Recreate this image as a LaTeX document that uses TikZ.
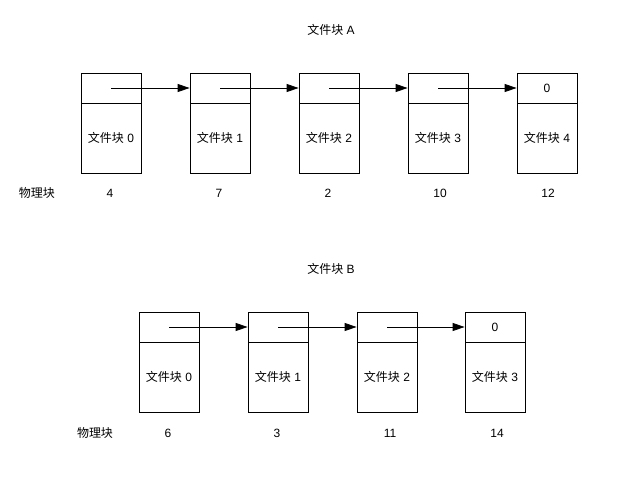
\documentclass[tikz,border=0pt]{standalone}
\usepackage{fontspec}
\setmainfont{Liberation Sans}
\newfontfamily\cjk{Noto Sans CJK SC}
\usetikzlibrary{arrows.meta}

\begin{document}
\begin{tikzpicture}[
            x=1pt, y=-1pt,
            font=\fontsize{12}{14}\selectfont,
            ptr/.style={draw=black, line width=0.8pt, minimum width=60pt, minimum height=30pt, inner sep=0pt},
            blk/.style={draw=black, line width=0.8pt, minimum width=60pt, minimum height=70pt, inner sep=0pt},
            nxt/.style={-{Triangle[length=12pt, width=8pt]}, line width=0.8pt},
        ]
            \useasboundingbox (0, 0) rectangle (633, 477);
            % file A
            \node (titlea) at (331, 30) {{\cjk 文件块} A};
            \node[ptr] (a0t) at (111, 88) {};
            \node[blk] (a0b) at (111, 138) {{\cjk 文件块} 0};
            \node[ptr] (a1t) at (220, 88) {};
            \node[blk] (a1b) at (220, 138) {{\cjk 文件块} 1};
            \node[ptr] (a2t) at (329, 88) {};
            \node[blk] (a2b) at (329, 138) {{\cjk 文件块} 2};
            \node[ptr] (a3t) at (438, 88) {};
            \node[blk] (a3b) at (438, 138) {{\cjk 文件块} 3};
            \node[ptr] (a4t) at (547, 88) {0};
            \node[blk] (a4b) at (547, 138) {{\cjk 文件块} 4};
            \path[nxt] (a0t.center) edge (a1t.west);
            \path[nxt] (a1t.center) edge (a2t.west);
            \path[nxt] (a2t.center) edge (a3t.west);
            \path[nxt] (a3t.center) edge (a4t.west);
            \node (phya) at (37, 193) {\cjk 物理块};
            \node (pa0) at (110, 193) {4};
            \node (pa1) at (219, 193) {7};
            \node (pa2) at (328, 193) {2};
            \node (pa3) at (440, 193) {10};
            \node (pa4) at (548, 193) {12};
            % file B
            \node (titleb) at (331, 269) {{\cjk 文件块} B};
            \node[ptr] (b0t) at (169, 327) {};
            \node[blk] (b0b) at (169, 377) {{\cjk 文件块} 0};
            \node[ptr] (b1t) at (278, 327) {};
            \node[blk] (b1b) at (278, 377) {{\cjk 文件块} 1};
            \node[ptr] (b2t) at (387, 327) {};
            \node[blk] (b2b) at (387, 377) {{\cjk 文件块} 2};
            \node[ptr] (b3t) at (495, 327) {0};
            \node[blk] (b3b) at (495, 377) {{\cjk 文件块} 3};
            \path[nxt] (b0t.center) edge (b1t.west);
            \path[nxt] (b1t.center) edge (b2t.west);
            \path[nxt] (b2t.center) edge (b3t.west);
            \node (phyb) at (95, 433) {\cjk 物理块};
            \node (pb0) at (168, 433) {6};
            \node (pb1) at (277, 433) {3};
            \node (pb2) at (390, 433) {11};
            \node (pb3) at (497, 433) {14};
        \end{tikzpicture}
\end{document}
